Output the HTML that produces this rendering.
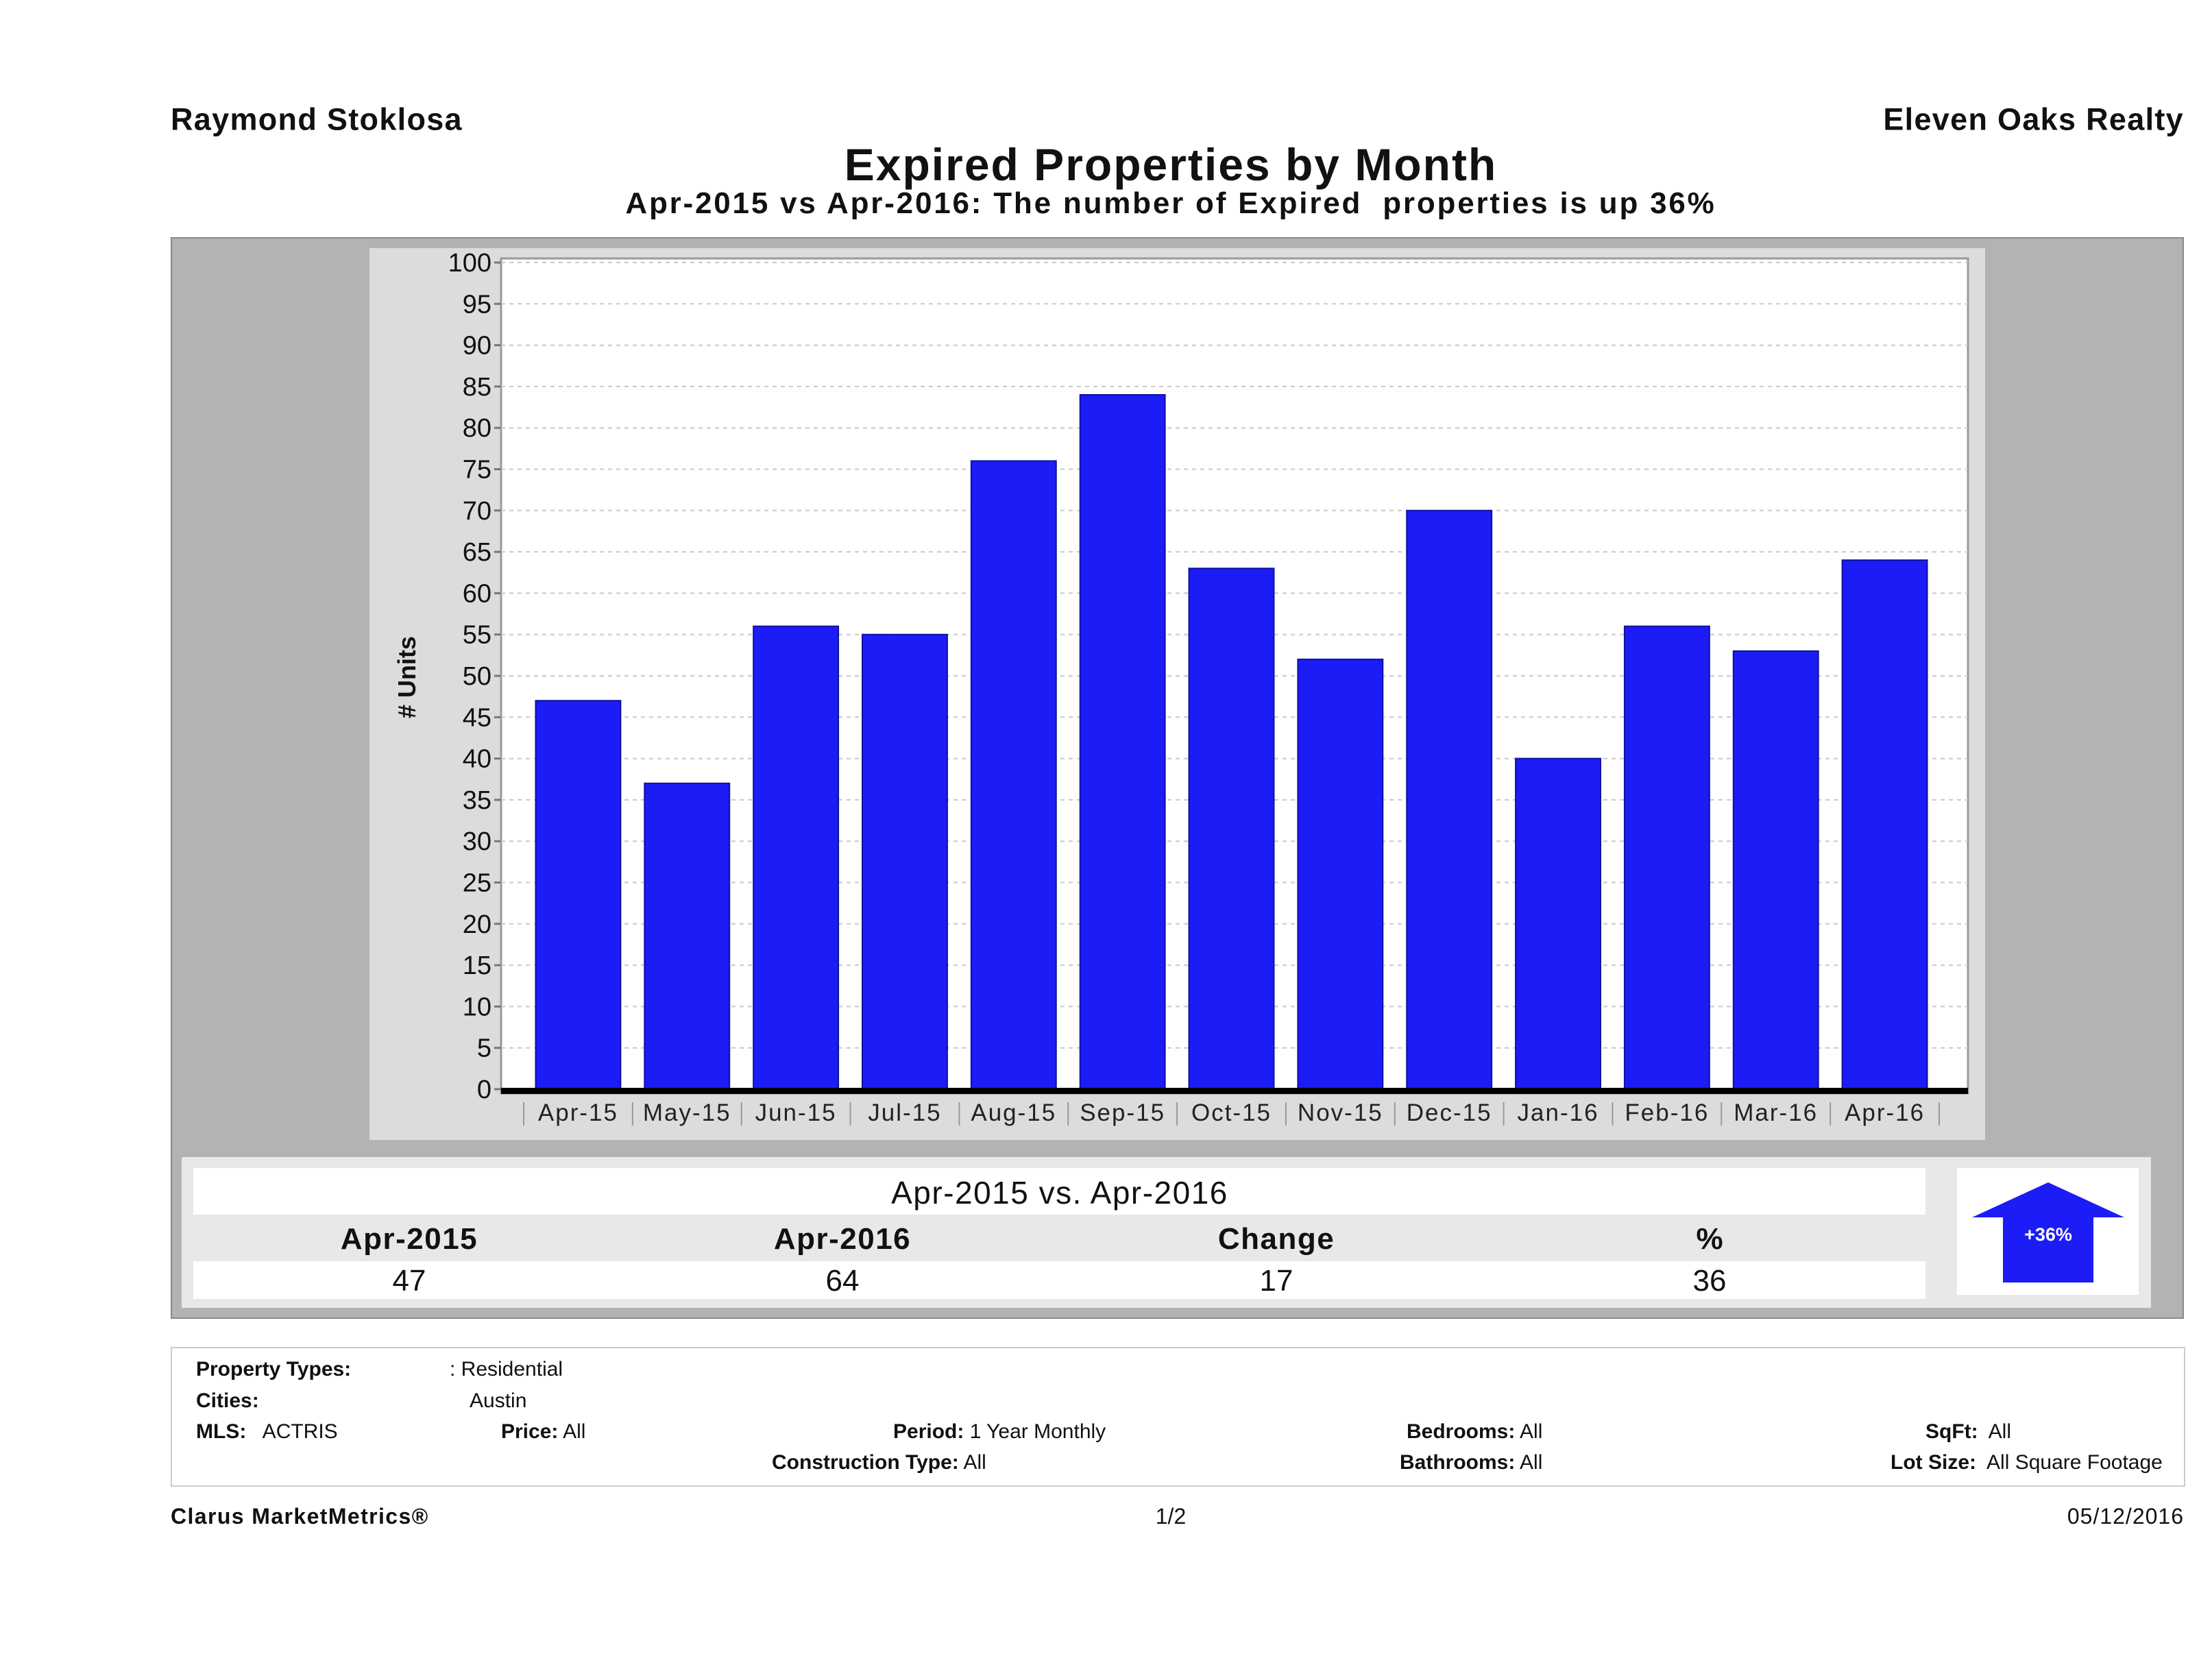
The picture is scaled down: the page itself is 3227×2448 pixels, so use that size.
<!DOCTYPE html>
<html><head><meta charset="utf-8"><style>
html,body{margin:0;padding:0;background:#fff;}
body{width:3227px;height:2448px;position:relative;overflow:hidden;font-family:"Liberation Sans",sans-serif;color:#111;}
.t{position:absolute;white-space:nowrap;transform:translateY(-50%);line-height:1;}
.c{transform:translate(-50%,-50%);}
.r{transform:translate(-100%,-50%);}
.b{font-weight:bold;}
.f{font-size:30px;}
</style></head><body>
<div class="t b" style="left:249px;top:174px;font-size:45px;letter-spacing:1.3px;">Raymond Stoklosa</div>
<div class="t b r" style="left:3186px;top:174px;font-size:45px;letter-spacing:1.3px;">Eleven Oaks Realty</div>
<div class="t b c" style="left:1708px;top:240px;font-size:66px;letter-spacing:2px;">Expired Properties by Month</div>
<div class="t b c" style="left:1708px;top:297px;font-size:44px;letter-spacing:2.8px;">Apr-2015 vs Apr-2016: The number of Expired&nbsp; properties is up 36%</div>

<div style="position:absolute;left:249px;top:346px;width:2933px;height:1574px;background:#b3b3b3;border:2px solid #888;"></div>
<div style="position:absolute;left:539px;top:362px;width:2357px;height:1301px;background:#dcdcdc;"></div>

<svg id="chart" width="3227" height="2448" style="position:absolute;left:0;top:0;"></svg>

<div style="position:absolute;left:265px;top:1688px;width:2873px;height:220px;background:#e8e8e8;"></div>
<div style="position:absolute;left:282px;top:1704px;width:2527px;height:68px;background:#fff;"></div>
<div style="position:absolute;left:282px;top:1840px;width:2527px;height:55px;background:#fff;"></div>
<div class="t c" style="left:1546px;top:1740px;font-size:46px;letter-spacing:1.5px;">Apr-2015 vs. Apr-2016</div>
<div class="t b c" style="left:597px;top:1808px;font-size:44px;letter-spacing:1.5px;">Apr-2015</div>
<div class="t b c" style="left:1229px;top:1808px;font-size:44px;letter-spacing:1.5px;">Apr-2016</div>
<div class="t b c" style="left:1862px;top:1808px;font-size:44px;letter-spacing:1.5px;">Change</div>
<div class="t b c" style="left:2494px;top:1808px;font-size:44px;">%</div>
<div class="t c" style="left:597px;top:1869px;font-size:44px;">47</div>
<div class="t c" style="left:1229px;top:1869px;font-size:44px;">64</div>
<div class="t c" style="left:1862px;top:1869px;font-size:44px;">17</div>
<div class="t c" style="left:2494px;top:1869px;font-size:44px;">36</div>
<div style="position:absolute;left:2855px;top:1704px;width:265px;height:185px;background:#fff;"></div>
<svg width="3227" height="2448" style="position:absolute;left:0;top:0;pointer-events:none;">
<polygon points="2988,1725 3099,1776 3054,1776 3054,1871 2922,1871 2922,1776 2877,1776" fill="#1c1cf6"/>
<text x="2988" y="1810" text-anchor="middle" fill="#fff" font-size="27" font-weight="bold" font-family="Liberation Sans, sans-serif">+36%</text>
</svg>

<div style="position:absolute;left:249px;top:1965px;width:2935px;height:200px;border:2px solid #ccc;background:#fff;"></div>
<div class="t f b" style="left:286px;top:1998px;">Property Types:</div>
<div class="t f" style="left:656px;top:1998px;">: Residential</div>
<div class="t f b" style="left:286px;top:2044px;">Cities:</div>
<div class="t f" style="left:685px;top:2044px;">Austin</div>
<div class="t f" style="left:286px;top:2089px;"><b>MLS:</b>&nbsp;&nbsp; ACTRIS</div>
<div class="t f" style="left:731px;top:2089px;"><b>Price:</b> All</div>
<div class="t f" style="left:1303px;top:2089px;"><b>Period:</b> 1 Year Monthly</div>
<div class="t f" style="left:2052px;top:2089px;"><b>Bedrooms:</b> All</div>
<div class="t f" style="left:2809px;top:2089px;"><b>SqFt:</b>&nbsp; All</div>
<div class="t f" style="left:1126px;top:2134px;"><b>Construction Type:</b> All</div>
<div class="t f" style="left:2042px;top:2134px;"><b>Bathrooms:</b> All</div>
<div class="t f" style="left:2758px;top:2134px;"><b>Lot Size:</b>&nbsp; All Square Footage</div>
<div class="t b" style="left:249px;top:2212px;font-size:32px;letter-spacing:1.4px;">Clarus MarketMetrics®</div>
<div class="t c" style="left:1708px;top:2212px;font-size:32px;">1/2</div>
<div class="t r" style="left:3186px;top:2212px;font-size:32px;letter-spacing:1px;">05/12/2016</div>

<script>
const categories = ["Apr-15","May-15","Jun-15","Jul-15","Aug-15","Sep-15","Oct-15","Nov-15","Dec-15","Jan-16","Feb-16","Mar-16","Apr-16"];
const values = [47,37,56,55,76,84,63,52,70,40,56,53,64];
const yTicks = [0,5,10,15,20,25,30,35,40,45,50,55,60,65,70,75,80,85,90,95,100];

const svg = document.getElementById('chart');
const NS = 'http://www.w3.org/2000/svg';
const plot = {l:731, r:2871, t:377, b:1595};
const y0 = 1589, y100 = 383, bandL = 764, bandR = 2829;
const yScale = v => y0 - (v/100)*(y0-y100);
const band = (bandR-bandL)/categories.length;
const xCenter = i => bandL + band*(i+0.5);
function mk(tag, attrs){ const e=document.createElementNS(NS,tag); for(const k in attrs) e.setAttribute(k,attrs[k]); svg.appendChild(e); return e; }

const bg = mk('rect',{x:plot.l,y:plot.t,width:plot.r-plot.l,height:plot.b-plot.t,fill:'#fff',stroke:'#999','stroke-width':3});



yTicks.forEach(v=>{
  const y = yScale(v);
  if(v>0){
    const g = mk('line',{x1:plot.l,x2:plot.r,y1:y,y2:y,stroke:'#c8c8c8','stroke-width':2,'stroke-dasharray':'6,6'});
    
    
  }
  const tk = mk('line',{x1:plot.l-10,x2:plot.l,y1:y,y2:y,stroke:'#777','stroke-width':3});
  
  
  const t = mk('text',{x:plot.l-14,y:y+13,'text-anchor':'end','font-size':38,fill:'#111','font-family':'Liberation Sans, sans-serif'});
  t.textContent = v;
  
  
});

const bw = band*0.78;
values.forEach((v,i)=>{
  const y = yScale(v);
  const b = mk('rect',{x:xCenter(i)-bw/2,y:y,width:bw,height:y0-y,fill:'#1c1cf6',stroke:'#1010a0','stroke-width':2});
  
  
});

const base = mk('rect',{x:plot.l,y:y0-2,width:plot.r-plot.l,height:9,fill:'#000'});



categories.forEach((c,i)=>{
  const t = mk('text',{x:xCenter(i),y:1635,'text-anchor':'middle','font-size':35,'letter-spacing':2,fill:'#222','font-family':'Liberation Sans, sans-serif'});
  t.textContent = c;
  
  
  const sx = bandL + band*i;
  const s = mk('line',{x1:sx,x2:sx,y1:1608,y2:1642,stroke:'#999','stroke-width':2});
  
  
});
const last = mk('line',{x1:bandR,x2:bandR,y1:1608,y2:1642,stroke:'#999','stroke-width':2});



const yl = mk('text',{x:0,y:0,transform:'translate(606,988) rotate(-90)','text-anchor':'middle','font-size':36,'font-weight':'bold',fill:'#111','font-family':'Liberation Sans, sans-serif'});
yl.textContent = '# Units';


</script>
</body></html>
